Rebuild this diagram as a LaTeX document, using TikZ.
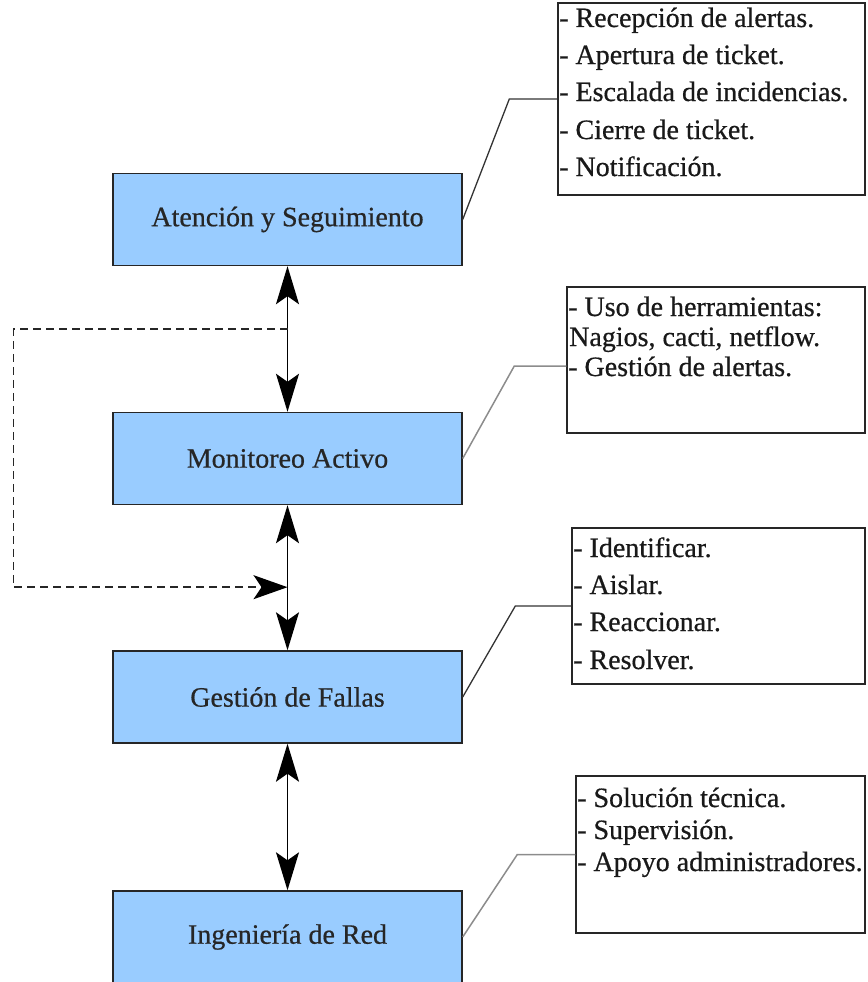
\documentclass[tikz,border=0pt]{standalone}
\usepackage{fontspec}
\setmainfont{Liberation Serif}[FakeBold=0.6]
\usetikzlibrary{arrows.meta,calc}
\definecolor{boxblue}{HTML}{99CCFF}
\begin{document}
\begin{tikzpicture}[x=1pt,y=-1pt,
  stage/.style={draw=black!85, line width=1.4pt, fill=boxblue, minimum width=349pt, minimum height=92pt, inner sep=0pt, font=\fontsize{28}{34}\selectfont, text=black!85},
  legend/.style={draw=black!85, line width=1.4pt, fill=white, inner sep=0pt},
  item/.style={anchor=base west, inner sep=0pt, font=\fontsize{28}{34}\selectfont, text=black!90},
  link/.style={draw=black!80, line width=1.3pt},
  link2/.style={draw=black!45, line width=1.5pt},
  flow/.style={line width=1.6pt, {Stealth[length=38pt,width=23pt,inset=8pt]}-{Stealth[length=38pt,width=23pt,inset=8pt]}},
  dashline/.style={draw=black!85, line width=1.5pt, dash pattern=on 8pt off 5pt, -{Stealth[length=34pt,width=24pt,inset=8pt,color=black]}}
]
\useasboundingbox (0,0) rectangle (867,982);
\clip (0,0) rectangle (867,982);

% main stages
\node[stage] (b1) at (287.5,219.5) {Atención y Seguimiento};
\node[stage] (b2) at (287.5,458.5) {Monitoreo Activo};
\node[stage] (b3) at (287.5,697) {Gestión de Fallas};
\node[stage] (b4) at (287.5,937) {Ingeniería de Red};

% legend boxes
\node[legend, minimum width=307pt, minimum height=192pt] (l1) at (711.5,99) {};
\node[legend, minimum width=298pt, minimum height=146pt] (l2) at (716,360) {};
\node[legend, minimum width=293pt, minimum height=156pt] (l3) at (718.5,606) {};
\node[legend, minimum width=289pt, minimum height=157pt] (l4) at (720.5,854.5) {};

% legend texts
\node[item] (t11) at (559,27) {- Recepción de alertas.};
\node[item] (t12) at (559,64) {- Apertura de ticket.};
\node[item] (t13) at (559,101) {- Escalada de incidencias.};
\node[item] (t14) at (559,139) {- Cierre de ticket.};
\node[item] (t15) at (559,176) {- Notificación.};

\node[item] (t21) at (568,316) {- Uso de herramientas:};
\node[item] (t22) at (569,346) {Nagios, cacti, netflow.};
\node[item] (t23) at (568,376) {- Gestión de alertas.};

\node[item] (t31) at (573,557) {- Identificar.};
\node[item] (t32) at (573,594) {- Aislar.};
\node[item] (t33) at (573,631) {- Reaccionar.};
\node[item] (t34) at (573,669) {- Resolver.};

\node[item] (t41) at (577,807) {- Solución técnica.};
\node[item] (t42) at (577,839) {- Supervisión.};
\node[item] (t43) at (577,871) {- Apoyo administradores.};

% callout connectors
\draw[link] (b1.east) -- ([xshift=-48pt]l1.west) -- (l1.west);
\draw[link2] (b2.east) -- ([xshift=-52pt,yshift=-6pt]l2.west) -- ([yshift=-6pt]l2.west);
\draw[link] (b3.east) -- ([xshift=-56pt]l3.west) -- (l3.west);
\draw[link2] (b4.east) -- ([xshift=-58pt]l4.west) -- (l4.west);

% flow arrows
\draw[flow] (b1.south) -- (b2.north);
\draw[flow] (b2.south) -- (b3.north);
\draw[flow] (b3.south) -- (b4.north);

% dashed feedback
\coordinate (d1) at ($(b1.south)!0.43!(b2.north)$);
\coordinate (d2) at ($(b2.south)!0.565!(b3.north)$);
\draw[dashline] (d1) -- ++(-274,0) |- (d2);
\end{tikzpicture}
\end{document}
